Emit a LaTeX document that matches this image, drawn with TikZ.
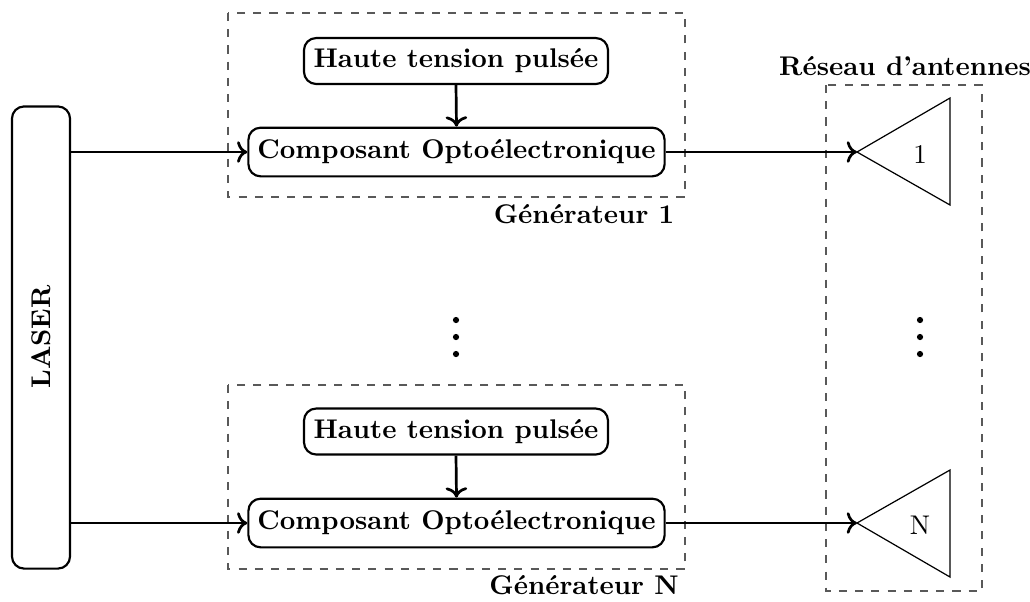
\documentclass[tikz,border=0pt]{standalone}
\usepackage{fontspec}
\usetikzlibrary{arrows.meta}
\begin{document}
\begin{tikzpicture}[x=0.37pt,y=-0.37pt,
  blockbox/.style={draw,thick,rounded corners=4.5pt,font=\bfseries,inner sep=0pt,align=center},
  groupbox/.style={draw=black!65,dashed,thin},
  conn/.style={line width=1pt,->},
  antenna/.style={draw,line width=0.45pt},
  lbl/.style={font=\bfseries,inner sep=0pt},
  dotm/.style={fill=black,circle,inner sep=0pt,minimum size=2.3pt}]
\useasboundingbox (0,0) rectangle (1030,601);
% groups
\draw[groupbox] (228,13) rectangle (685,197);
\draw[groupbox] (228,385) rectangle (685,569);
\draw[groupbox] (826,85) rectangle (982,591);
\node[lbl] (g1) at (584,214) {Générateur 1};
\node[lbl] (gN) at (584,585) {Générateur N};
\node[lbl] (res) at (905,66) {Réseau d’antennes};
% laser
\node[blockbox,minimum width=21.5pt,minimum height=171pt] (laser) at (41,337.5) {};
\node[lbl,rotate=90] (lasertxt) at (41,337) {LASER};
% generator 1
\node[blockbox,minimum width=112.5pt,minimum height=17pt] (ht1) at (456,61) {Haute tension pulsée};
\node[blockbox,minimum width=154pt,minimum height=18pt] (co1) at (456.5,152) {Composant Optoélectronique};
% generator N
\node[blockbox,minimum width=112.5pt,minimum height=17pt] (htN) at (456,431.5) {Haute tension pulsée};
\node[blockbox,minimum width=154pt,minimum height=18pt] (coN) at (456.5,523) {Composant Optoélectronique};
% antennas
\coordinate (a1) at (857,152);
\coordinate (a1t) at (950,98);
\coordinate (a1b) at (950,205);
\draw[antenna] (a1) -- (a1t) -- (a1b) -- cycle;
\node (a1l) at (920,154) {1};
\coordinate (aN) at (857,523);
\coordinate (aNt) at (950,470);
\coordinate (aNb) at (950,577);
\draw[antenna] (aN) -- (aNt) -- (aNb) -- cycle;
\node (aNl) at (920,525) {N};
% dots
\node[dotm] (d1) at (456,320) {};
\node[dotm] (d2) at (456,337) {};
\node[dotm] (d3) at (456,354) {};
\node[dotm] (e1) at (920,320) {};
\node[dotm] (e2) at (920,337) {};
\node[dotm] (e3) at (920,354) {};
% connectors
\coordinate (l1) at (laser.east |- co1.west);
\coordinate (lN) at (laser.east |- coN.west);
\draw[conn] (ht1.south) -- (co1.north);
\draw[conn] (htN.south) -- (coN.north);
\draw[conn] (l1) -- (co1.west);
\draw[conn] (lN) -- (coN.west);
\draw[conn] (co1.east) -- (a1);
\draw[conn] (coN.east) -- (aN);
\end{tikzpicture}
\end{document}
